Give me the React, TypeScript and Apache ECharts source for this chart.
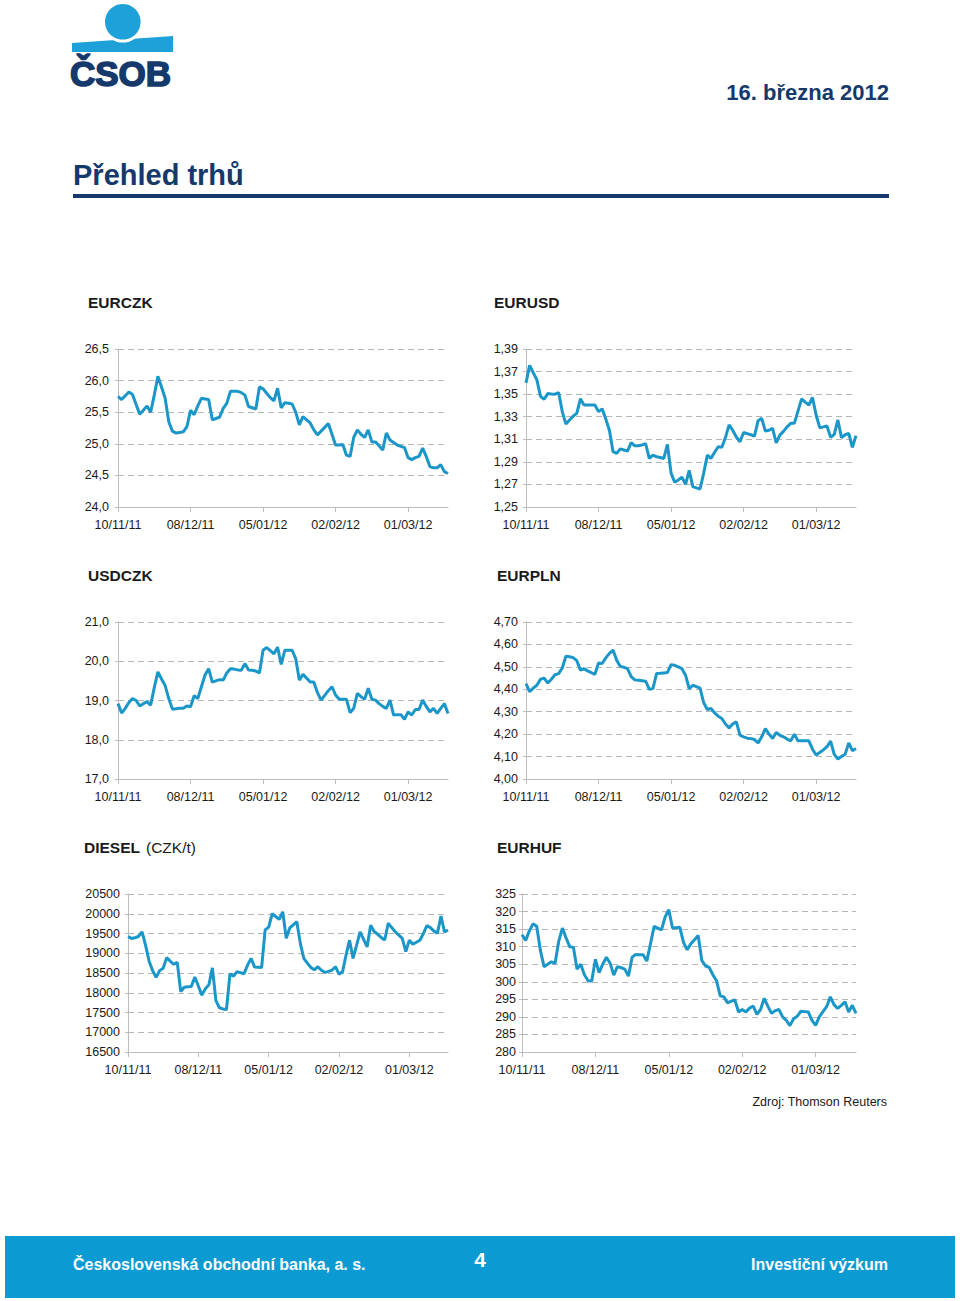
import React, { useEffect, useRef } from "react";
import * as echarts from "echarts";

const dates = [
  "10/11/11", "11/11/11", "14/11/11", "15/11/11", "16/11/11", "17/11/11", "18/11/11",
  "21/11/11", "22/11/11", "23/11/11", "24/11/11", "25/11/11",
  "28/11/11", "29/11/11", "30/11/11", "01/12/11", "02/12/11",
  "05/12/11", "06/12/11", "07/12/11", "08/12/11", "09/12/11",
  "12/12/11", "13/12/11", "14/12/11", "15/12/11", "16/12/11",
  "19/12/11", "20/12/11", "21/12/11", "22/12/11", "23/12/11",
  "26/12/11", "27/12/11", "28/12/11", "29/12/11", "30/12/11",
  "02/01/12", "03/01/12", "04/01/12", "05/01/12", "06/01/12",
  "09/01/12", "10/01/12", "11/01/12", "12/01/12", "13/01/12",
  "16/01/12", "17/01/12", "18/01/12", "19/01/12", "20/01/12",
  "23/01/12", "24/01/12", "25/01/12", "26/01/12", "27/01/12",
  "30/01/12", "31/01/12", "01/02/12", "02/02/12", "03/02/12",
  "06/02/12", "07/02/12", "08/02/12", "09/02/12", "10/02/12",
  "13/02/12", "14/02/12", "15/02/12", "16/02/12", "17/02/12",
  "20/02/12", "21/02/12", "22/02/12", "23/02/12", "24/02/12",
  "27/02/12", "28/02/12", "29/02/12", "01/03/12", "02/03/12",
  "05/03/12", "06/03/12", "07/03/12", "08/03/12", "09/03/12",
  "12/03/12", "13/03/12", "14/03/12", "15/03/12", "16/03/12",
];

const eurczk = [
  25.75, 25.70, 25.76, 25.82, 25.78, 25.62, 25.47, 25.53, 25.60, 25.50,
  25.77, 26.07, 25.90, 25.72, 25.35, 25.20, 25.17, 25.18, 25.19, 25.27,
  25.53, 25.46, 25.60, 25.72, 25.71, 25.70, 25.38, 25.40, 25.42, 25.56,
  25.64, 25.83, 25.83, 25.83, 25.81, 25.77, 25.59, 25.57, 25.55, 25.90,
  25.87, 25.80, 25.73, 25.68, 25.88, 25.57, 25.65, 25.64, 25.63, 25.50,
  25.30, 25.43, 25.38, 25.33, 25.22, 25.14, 25.20, 25.26, 25.32, 25.15,
  24.98, 24.98, 24.99, 24.82, 24.80, 25.10, 25.22, 25.15, 25.10, 25.22,
  25.03, 25.03, 24.97, 24.90, 25.17, 25.06, 25.02, 24.98, 24.96, 24.94,
  24.78, 24.75, 24.78, 24.80, 24.93, 24.80, 24.64, 24.62, 24.62, 24.67,
  24.56, 24.53,
];

const eurusd = [
  1.3600, 1.3755, 1.3690, 1.3627, 1.3480, 1.3455, 1.3505, 1.3502, 1.3500, 1.3514,
  1.3345, 1.3235, 1.3270, 1.3305, 1.3330, 1.3458, 1.3404, 1.3404, 1.3403, 1.3404,
  1.3345, 1.3370, 1.3280, 1.3180, 1.2990, 1.2975, 1.3015, 1.3005, 1.2995, 1.3070,
  1.3042, 1.3043, 1.3050, 1.3060, 1.2930, 1.2960, 1.2945, 1.2938, 1.2930, 1.3054,
  1.2800, 1.2720, 1.2740, 1.2765, 1.2700, 1.2825, 1.2680, 1.2670, 1.2660, 1.2800,
  1.2960, 1.2930, 1.2985, 1.3034, 1.3030, 1.3115, 1.3227, 1.3180, 1.3120, 1.3078,
  1.3160, 1.3150, 1.3140, 1.3128, 1.3265, 1.3286, 1.3173, 1.3180, 1.3197, 1.3069,
  1.3137, 1.3170, 1.3210, 1.3241, 1.3241, 1.3350, 1.3458, 1.3430, 1.3404, 1.3470,
  1.3315, 1.3203, 1.3210, 1.3218, 1.3117, 1.3144, 1.3271, 1.3114, 1.3140, 1.3152,
  1.3028, 1.3132,
];

const usdczk = [
  18.92, 18.68, 18.80, 18.95, 19.05, 19.00, 18.86, 18.92, 18.97, 18.88,
  19.33, 19.73, 19.55, 19.38, 19.05, 18.78, 18.79, 18.80, 18.80, 18.86,
  18.84, 19.12, 19.05, 19.35, 19.65, 19.81, 19.47, 19.50, 19.53, 19.52,
  19.70, 19.81, 19.80, 19.78, 19.77, 19.94, 19.78, 19.77, 19.75, 19.70,
  20.28, 20.35, 20.27, 20.19, 20.36, 19.92, 20.28, 20.28, 20.28, 20.07,
  19.52, 19.67, 19.57, 19.47, 19.47, 19.20, 19.01, 19.13, 19.25, 19.35,
  19.14, 19.03, 19.03, 19.03, 18.69, 18.80, 19.18, 19.10, 19.03, 19.31,
  19.03, 19.01, 18.92, 18.85, 18.80, 19.01, 18.63, 18.64, 18.64, 18.52,
  18.71, 18.63, 18.77, 18.77, 19.01, 18.85, 18.71, 18.80, 18.67, 18.80,
  18.92, 18.67,
];

const eurpln = [
  4.425, 4.390, 4.405, 4.418, 4.445, 4.450, 4.428, 4.445, 4.465, 4.470,
  4.495, 4.547, 4.545, 4.541, 4.528, 4.485, 4.492, 4.482, 4.474, 4.467,
  4.517, 4.515, 4.540, 4.560, 4.575, 4.530, 4.502, 4.498, 4.492, 4.456,
  4.442, 4.440, 4.438, 4.436, 4.400, 4.403, 4.470, 4.471, 4.473, 4.475,
  4.510, 4.507, 4.500, 4.492, 4.463, 4.403, 4.418, 4.412, 4.405, 4.340,
  4.310, 4.314, 4.295, 4.280, 4.270, 4.245, 4.228, 4.245, 4.255, 4.196,
  4.188, 4.182, 4.180, 4.176, 4.161, 4.188, 4.225, 4.200, 4.181, 4.207,
  4.195, 4.188, 4.178, 4.170, 4.200, 4.170, 4.170, 4.170, 4.170, 4.133,
  4.107, 4.118, 4.130, 4.144, 4.169, 4.110, 4.089, 4.100, 4.110, 4.161,
  4.126, 4.136,
];

const diesel = [
  19420, 19375, 19390, 19430, 19540, 19200, 18800, 18560, 18390, 18560,
  18620, 18890, 18800, 18720, 18770, 18030, 18140, 18150, 18160, 18400,
  18170, 17940, 18100, 18200, 18630, 17800, 17620, 17590, 17575, 18480,
  18420, 18530, 18510, 18480, 18700, 18870, 18650, 18645, 18640, 19590,
  19660, 20000, 19930, 19860, 20050, 19380, 19640, 19720, 19800, 19250,
  18870, 18750, 18640, 18580, 18660, 18570, 18515, 18540, 18570, 18660,
  18470, 18530, 18950, 19330, 18870, 19200, 19540, 19350, 19160, 19710,
  19550, 19480, 19400, 19335, 19760, 19650, 19545, 19460, 19375, 19040,
  19330, 19230, 19280, 19330, 19500, 19700, 19650, 19560, 19510, 19940,
  19540, 19590,
];

const eurhuf = [
  313.4, 311.8, 314.5, 316.5, 315.8, 309.0, 304.3, 305.0, 305.7, 305.2,
  311.5, 315.3, 312.5, 310.0, 309.8, 303.6, 305.0, 302.0, 300.3, 300.2,
  306.4, 302.6, 305.0, 307.0, 305.3, 301.9, 304.3, 304.0, 303.6, 301.6,
  307.0, 307.8, 307.7, 307.7, 305.9, 310.8, 315.8, 315.3, 314.8, 318.5,
  320.5, 315.3, 315.4, 315.5, 311.2, 309.1, 310.8, 312.0, 313.2, 306.0,
  304.5, 304.1, 302.0, 300.3, 296.0, 295.7, 294.0, 294.5, 294.8, 291.4,
  292.1, 291.4, 292.5, 293.1, 290.7, 292.1, 295.3, 293.0, 291.0, 291.8,
  292.1, 290.0, 289.0, 287.5, 289.5, 290.2, 291.6, 291.5, 291.4, 289.0,
  287.6, 290.0, 291.5, 292.9, 295.7, 293.5, 292.4, 293.3, 294.3, 291.4,
  293.3, 291.0,
];

const LINE = "#1b96c8";
const NAVY = "#15396a";
const LOGO_BLUE = "#1ea0d8";
const FOOTER = "#0b9ad2";
const FONT = "'Liberation Sans', Arial, Helvetica, sans-serif";

type Panel = {
  data: number[];
  grid: { left: number; top: number; width: number; height: number };
  min: number;
  max: number;
  interval: number;
  dec: number;
  base: number;
  labelMargin: number;
};

const panels: Panel[] = [
  { data: eurczk, grid: { left: 118, top: 349, width: 330, height: 158 }, min: 24, max: 26.5, interval: 0.5, dec: 1, base: 0, labelMargin: 9 },
  { data: eurusd, grid: { left: 526, top: 349, width: 330, height: 158 }, min: 0, max: 0.14, interval: 0.02, dec: 2, base: 1.25, labelMargin: 8 },
  { data: usdczk, grid: { left: 118, top: 622, width: 330, height: 157 }, min: 17, max: 21, interval: 1, dec: 1, base: 0, labelMargin: 9 },
  { data: eurpln, grid: { left: 526, top: 622, width: 330, height: 157 }, min: 4, max: 4.7, interval: 0.1, dec: 2, base: 0, labelMargin: 8 },
  { data: diesel, grid: { left: 128, top: 894, width: 320, height: 158 }, min: 16500, max: 20500, interval: 500, dec: 0, base: 0, labelMargin: 8 },
  { data: eurhuf, grid: { left: 522, top: 894, width: 334, height: 158 }, min: 280, max: 325, interval: 5, dec: 0, base: 0, labelMargin: 6 },
];

function txt(text: string, x: number, y: number, font: string, fill: string, align: string = "left", extra: any = {}) {
  return {
    type: "text",
    style: {
      text,
      x,
      y,
      font,
      fill,
      textAlign: align,
      textVerticalAlign: "middle",
      ...extra,
    },
    silent: true,
  };
}

export default function App() {
  const ref = useRef<HTMLDivElement>(null);

  useEffect(() => {
    if (!ref.current) return;
    const chart = echarts.init(ref.current, null, { renderer: "svg" });

    const grids = panels.map((p) => ({ ...p.grid, containLabel: false }));
    const xAxes = panels.map((p, i) => ({
      type: "category",
      gridIndex: i,
      data: dates,
      boundaryGap: false,
      axisLine: { show: true, lineStyle: { color: "#bdbdbd", width: 1 } },
      axisTick: { show: true, interval: 19, length: 5, lineStyle: { color: "#bdbdbd" } },
      axisLabel: {
        interval: 19,
        margin: 11,
        color: "#1a1a1a",
        fontSize: 12.5,
        fontFamily: FONT,
        hideOverlap: false,
      },
      splitLine: { show: false },
    }));
    const yAxes = panels.map((p, i) => ({
      type: "value",
      gridIndex: i,
      min: p.min,
      max: p.max,
      interval: p.interval,
      axisLine: { show: true, lineStyle: { color: "#bdbdbd", width: 1 } },
      axisTick: { show: true, length: 3, lineStyle: { color: "#bdbdbd" } },
      axisLabel: {
        margin: p.labelMargin,
        color: "#1a1a1a",
        fontSize: 12.5,
        fontFamily: FONT,
        formatter: (v: number) => (v + p.base).toFixed(p.dec).replace(".", ","),
      },
      splitLine: { show: true, lineStyle: { color: "#b5b5b5", type: [6, 4], width: 1 } },
    }));
    const series = panels.map((p, i) => ({
      type: "line",
      xAxisIndex: i,
      yAxisIndex: i,
      data: p.data.map((v) => Math.round((v - p.base) * 100000) / 100000),
      showSymbol: false,
      symbol: "none",
      lineStyle: { color: LINE, width: 3 },
      itemStyle: { color: LINE },
      silent: true,
    }));

    const graphic: any[] = [
      // logo swoosh band
      {
        type: "polygon",
        shape: { points: [[72, 43], [173, 36], [173, 52], [72, 52]] },
        style: { fill: LOGO_BLUE },
        silent: true,
      },
      { type: "circle", shape: { cx: 122.8, cy: 21.8, r: 20.8 }, style: { fill: "#ffffff" }, silent: true },
      { type: "circle", shape: { cx: 122.8, cy: 21.8, r: 17.8 }, style: { fill: LOGO_BLUE }, silent: true },
      txt("ČSOB", 70, 73, `bold 35px ${FONT}`, NAVY, "left", { stroke: NAVY, lineWidth: 1.6 }),
      // header
      txt("16. března 2012", 889, 92, `bold 22px ${FONT}`, NAVY, "right"),
      txt("Přehled trhů", 73, 175, `bold 29px ${FONT}`, NAVY),
      { type: "rect", shape: { x: 73, y: 194, width: 816, height: 4 }, style: { fill: NAVY }, silent: true },
      // chart titles
      txt("EURCZK", 88, 302, `bold 15.5px ${FONT}`, "#1a1a1a"),
      txt("EURUSD", 494, 302, `bold 15.5px ${FONT}`, "#1a1a1a"),
      txt("USDCZK", 88, 575, `bold 15.5px ${FONT}`, "#1a1a1a"),
      txt("EURPLN", 497, 575, `bold 15.5px ${FONT}`, "#1a1a1a"),
      txt("DIESEL", 84, 847, `bold 15.5px ${FONT}`, "#1a1a1a"),
      txt("(CZK/t)", 146, 847, `15.5px ${FONT}`, "#1a1a1a"),
      txt("EURHUF", 497, 847, `bold 15.5px ${FONT}`, "#1a1a1a"),
      // source
      txt("Zdroj: Thomson Reuters", 887, 1102, `12.5px ${FONT}`, "#1a1a1a", "right"),
      // footer
      { type: "rect", shape: { x: 5, y: 1236, width: 950, height: 62 }, style: { fill: FOOTER }, silent: true },
      txt("Československá obchodní banka, a. s.", 73, 1264, `bold 16px ${FONT}`, "#ffffff"),
      txt("4", 480, 1259, `bold 21px ${FONT}`, "#ffffff", "center"),
      txt("Investiční výzkum", 888, 1264, `bold 16px ${FONT}`, "#ffffff", "right"),
    ];

    chart.setOption({
      animation: false,
      backgroundColor: "#ffffff",
      grid: grids,
      xAxis: xAxes,
      yAxis: yAxes,
      series,
      graphic,
    });

    return () => chart.dispose();
  }, []);

  return (
    <div
      ref={ref}
      style={{ position: "absolute", left: 0, top: 0, width: 960, height: 1301, background: "#ffffff" }}
    />
  );
}
